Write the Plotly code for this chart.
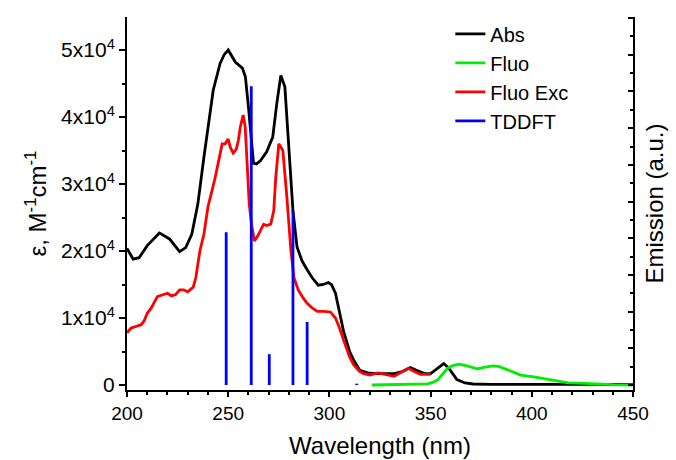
import plotly.graph_objects as go

# ---------------- data ----------------
abs_nm = [200, 203, 206, 210, 216, 221, 226, 229, 232, 235, 238, 242.6, 246, 248, 250, 251.5,
          253.5, 257, 258.5, 260, 261.5, 262.5, 264, 266, 269, 272, 274, 276, 278, 280, 282, 284,
          286.5, 289, 291.5, 294.5, 297, 299.5, 301, 303, 305, 307, 310, 312, 315, 319, 323, 328,
          332, 336, 340, 343, 347, 350, 353, 356.5, 359, 363, 367, 371, 380, 400, 420, 450]
abs_eps = [2.04, 1.88, 1.90, 2.08, 2.27, 2.18, 1.99, 2.05, 2.25, 2.70, 3.40, 4.40, 4.80, 4.93, 5.00, 4.93,
           4.82, 4.73, 4.60, 4.15, 3.60, 3.31, 3.30, 3.35, 3.48, 3.70, 4.20, 4.62, 4.45, 3.60, 2.60, 2.06,
           1.85, 1.72, 1.60, 1.49, 1.50, 1.53, 1.50, 1.37, 1.10, 0.80, 0.50, 0.37, 0.22, 0.18, 0.17, 0.17,
           0.17, 0.20, 0.26, 0.22, 0.17, 0.17, 0.24, 0.32, 0.25, 0.08, 0.03, 0.015, 0.01, 0.01, 0.01, 0.01]

exc_nm = [200, 202, 204, 207, 208.5, 210, 212, 214, 215, 217, 220, 222, 224, 226, 228, 230, 232.7,
          234, 236, 238, 240, 242, 243.6, 246, 247, 248.5, 250, 251, 252.5, 254, 255, 256, 257.4,
          258.4, 259.4, 260.4, 261.5, 263, 264.5, 266, 267.5, 269, 271, 272.5, 273.5, 275, 276, 277,
          279, 281, 282.5, 284.6, 287, 289, 291.5, 294, 297, 300.5, 303, 305, 307, 310, 312, 315,
          317, 320, 324, 328, 332, 336, 339, 342, 345, 350]
exc_eps = [0.78, 0.85, 0.87, 0.90, 0.96, 1.07, 1.15, 1.27, 1.32, 1.34, 1.37, 1.33, 1.35, 1.42, 1.42, 1.39, 1.46,
           1.60, 2.00, 2.25, 2.66, 2.90, 3.10, 3.45, 3.60, 3.60, 3.67, 3.55, 3.46, 3.52, 3.65, 3.85, 4.03,
           3.85, 3.30, 2.70, 2.40, 2.15, 2.22, 2.30, 2.40, 2.38, 2.40, 2.60, 3.10, 3.60, 3.55, 3.50,
           2.80, 2.00, 1.60, 1.42, 1.30, 1.22, 1.15, 1.10, 1.10, 1.09, 1.00, 0.85, 0.67, 0.42, 0.30, 0.20,
           0.17, 0.15, 0.18, 0.15, 0.13, 0.20, 0.25, 0.20, 0.16, 0.16]

fluo_nm = [321, 330, 340, 345, 348.5, 351, 353.5, 356, 358.4, 361, 364, 368, 373, 377, 381, 384,
           388, 391, 394.5, 401, 408, 413, 418, 423, 429, 435, 440, 450]
fluo_int = [0.0, 0.01, 0.02, 0.02, 0.03, 0.07, 0.14, 0.30, 0.46, 0.53, 0.57, 0.52, 0.44, 0.49, 0.52, 0.50,
            0.41, 0.34, 0.27, 0.22, 0.16, 0.11, 0.06, 0.05, 0.03, 0.02, 0.01, 0.0]

tddft_nm = [249, 261.4, 270.3, 282, 289, 313.5]
tddft_eps = [2.28, 4.46, 0.46, 2.60, 0.94, 0.02]

scale = 1e4
y_tick_vals = [0, 1, 2, 3, 4, 5]
y_tick_text = ["0", "1x10<sup>4</sup>", "2x10<sup>4</sup>", "3x10<sup>4</sup>",
               "4x10<sup>4</sup>", "5x10<sup>4</sup>"]

# ---------------- figure ----------------
FONT = "Liberation Sans, Arial, sans-serif"
fig = go.Figure()

fig.add_trace(go.Scatter(x=abs_nm, y=[v * scale for v in abs_eps], mode="lines", name="Abs",
                         line=dict(color="#000000", width=2.8), yaxis="y"))
fig.add_trace(go.Scatter(x=fluo_nm, y=fluo_int, mode="lines", name="Fluo",
                         line=dict(color="#00ee00", width=2.8), yaxis="y2"))
fig.add_trace(go.Scatter(x=exc_nm, y=[v * scale for v in exc_eps], mode="lines", name="Fluo Exc",
                         line=dict(color="#ff0000", width=2.8), yaxis="y"))

stem_x, stem_y = [], []
for nm, e in zip(tddft_nm, tddft_eps):
    stem_x += [nm, nm, None]
    stem_y += [0, e * scale, None]
fig.add_trace(go.Scatter(x=stem_x, y=stem_y, mode="lines", name="TDDFT",
                         line=dict(color="#0000ff", width=2.8), yaxis="y"))

fig.update_layout(
    width=676, height=460,
    margin=dict(l=127, r=43, t=17, b=70),
    paper_bgcolor="white", plot_bgcolor="white",
    font=dict(family=FONT, color="black"),
    showlegend=True,
    legend=dict(x=0.639, y=1.007, xanchor="left", yanchor="top",
                bgcolor="rgba(0,0,0,0)", font=dict(size=20, family=FONT),
                tracegroupgap=0),
    xaxis=dict(range=[200, 450], showgrid=False, zeroline=False, automargin=False,
               showline=True, linecolor="black", linewidth=2,
               ticks="outside", ticklen=5, tickwidth=2, tickcolor="black",
               tickvals=[200, 250, 300, 350, 400, 450],
               minor=dict(ticks="outside", ticklen=3, tickwidth=2, dtick=10, tick0=200, tickcolor="black"),
               tickfont=dict(size=19, family=FONT),
               title=dict(text="Wavelength (nm)", font=dict(size=24, family=FONT), standoff=14)),
    yaxis=dict(range=[-746, 54925], showgrid=False, zeroline=False, automargin=False,
               showline=True, linecolor="black", linewidth=2,
               ticks="outside", ticklen=6, tickwidth=2, tickcolor="black",
               tickvals=[v * scale for v in y_tick_vals], ticktext=y_tick_text,
               minor=dict(ticks="outside", ticklen=3, tickwidth=2, dtick=5000, tick0=0, tickcolor="black"),
               tickfont=dict(size=21, family=FONT),
               title=dict(text="ε, M<sup>-1</sup>cm<sup>-1</sup>", font=dict(size=24, family=FONT), standoff=8)),
    yaxis2=dict(range=[-0.136, 10.03], overlaying="y", side="right", showgrid=False, zeroline=False,
                automargin=False,
                showline=True, linecolor="black", linewidth=2,
                ticks="inside", ticklen=5, tickwidth=2, tickcolor="black",
                dtick=1, tick0=0, showticklabels=False,
                minor=dict(ticks="inside", ticklen=3, tickwidth=2, dtick=0.5, tick0=0, tickcolor="black"),
                title=dict(text="Emission (a.u.)", font=dict(size=24, family=FONT), standoff=12)),
)

fig.write_html("out.html")
